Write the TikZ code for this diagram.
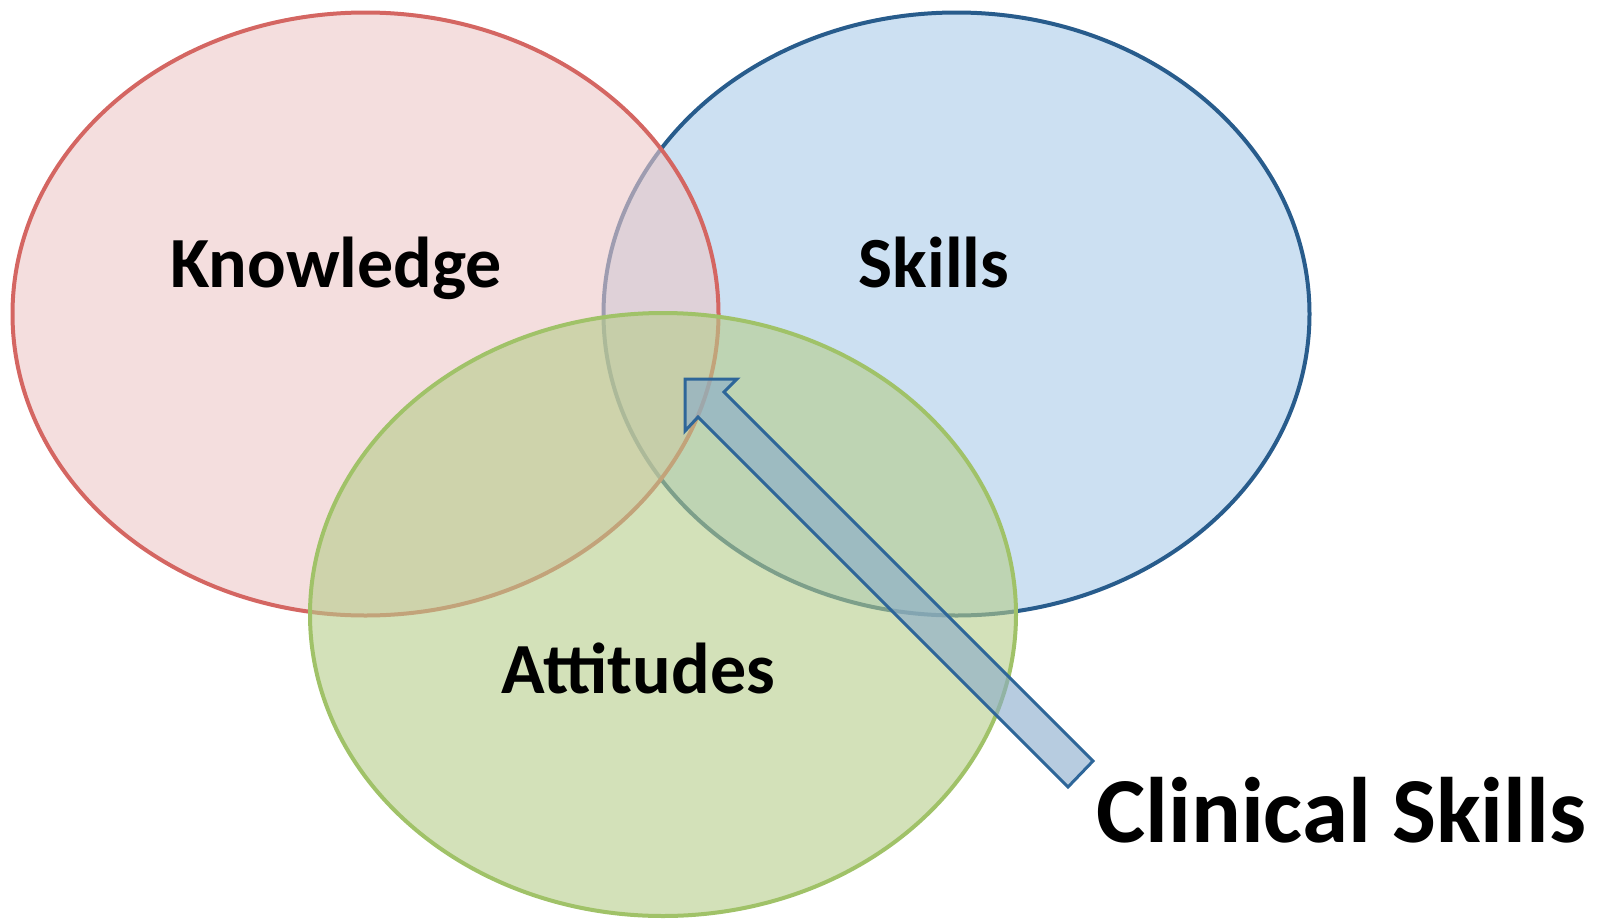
\documentclass[tikz,border=0pt]{standalone}
\usepackage{fontspec}
\setmainfont{Carlito}
\usetikzlibrary{shapes.geometric}
\definecolor{kfill}{RGB}{237,200,200}
\definecolor{kline}{RGB}{212,102,98}
\definecolor{sfill}{RGB}{170,203,233}
\definecolor{sline}{RGB}{40,92,140}
\definecolor{afill}{RGB}{182,205,138}
\definecolor{aline}{RGB}{160,194,104}
\definecolor{arfill}{RGB}{135,170,203}
\definecolor{arline}{RGB}{46,102,153}
\tikzset{
  setbox/.style={ellipse, inner sep=0pt, outer sep=0pt, line width=4pt,
    minimum width=706pt, minimum height=603pt, fill opacity=0.6, draw opacity=1},
  lbl/.style={font=\bfseries\fontsize{72}{86}\selectfont, anchor=base, inner sep=0pt},
  biglbl/.style={font=\bfseries\fontsize{93}{110}\selectfont, anchor=base west, inner sep=0pt},
  blockarrow/.style={fill=arfill, fill opacity=0.6, draw=arline, draw opacity=1,
    line width=3pt, line join=miter}
}
\begin{document}
\begin{tikzpicture}[x=1pt, y=-1pt]
\useasboundingbox (0,0) rectangle (1610,919);
\node[setbox, draw=sline, fill=sfill] (skills) at (956.5,314) {};
\node[setbox, draw=kline, fill=kfill] (knowledge) at (365.5,314) {};
\node[setbox, draw=aline, fill=afill] (attitudes) at (663,614.5) {};
\node[lbl] (tk) at (336,287.5) {Knowledge};
\node[lbl] (ts) at (934,287.5) {Skills};
\node[lbl] (ta) at (638.5,693) {Attitudes};
\node[biglbl] (tc) at (1096,842) {Clinical Skills};
\coordinate (tip) at (685,379);
\draw[blockarrow] (tip) -- (737,379) -- (724,392) -- (1093,761) -- (1068,787)
  -- (698,417) -- (685,431) -- cycle;
\end{tikzpicture}
\end{document}
